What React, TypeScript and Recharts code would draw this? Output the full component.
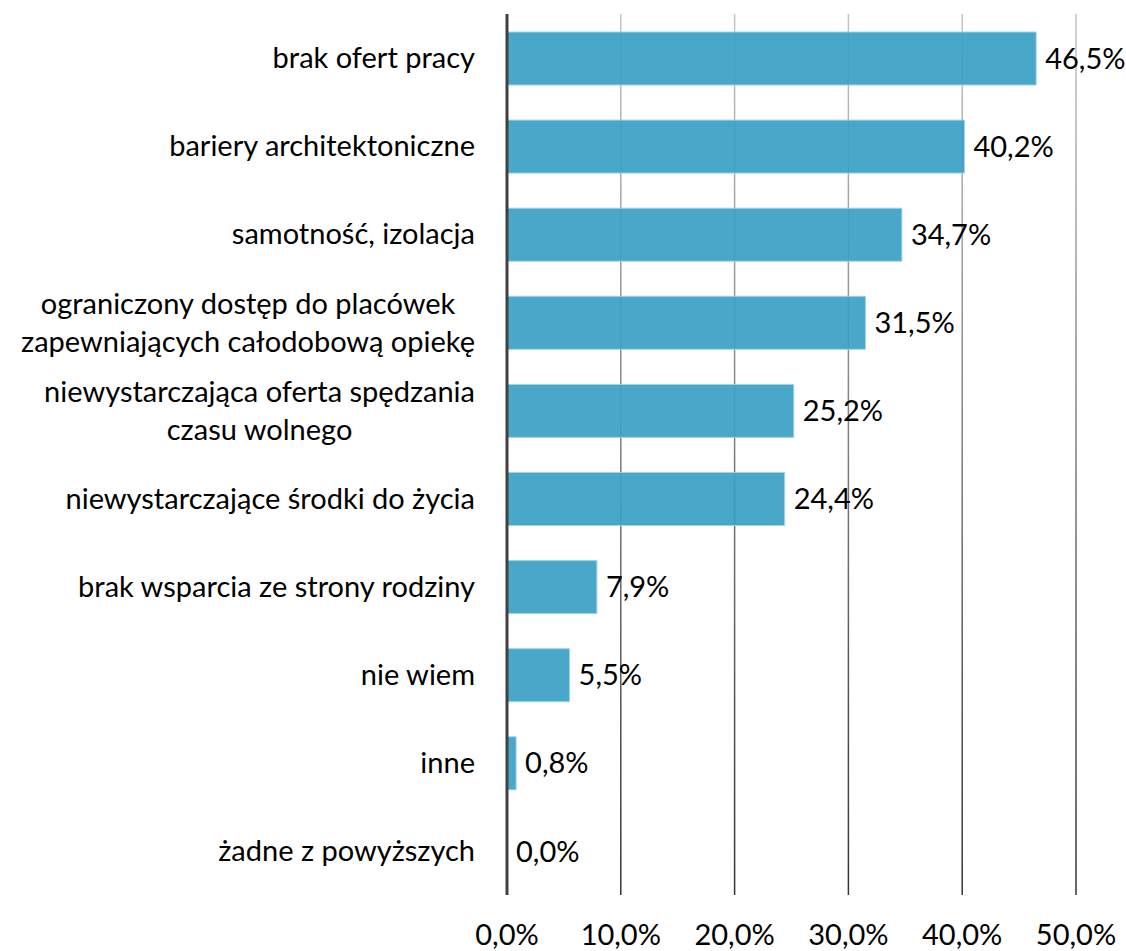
import React from 'react';
import { BarChart, Bar, XAxis, YAxis, CartesianGrid, LabelList } from 'recharts';

const categories = [
  'brak ofert pracy',
  'bariery architektoniczne',
  'samotność, izolacja',
  'ograniczony dostęp do placówek\nzapewniających całodobową opiekę',
  'niewystarczająca oferta spędzania\nczasu wolnego',
  'niewystarczające środki do życia',
  'brak wsparcia ze strony rodziny',
  'nie wiem',
  'inne',
  'żadne z powyższych',
];
const values = [46.5, 40.2, 34.7, 31.5, 25.2, 24.4, 7.9, 5.5, 0.8, 0.0];
const xTicks = [0, 10, 20, 30, 40, 50];

const data = categories.map((name, i) => ({ name, value: values[i] }));

const FONT = 'Lato, "Open Sans", sans-serif';
const FS = 29;
const pct = (v: number) => v.toFixed(1).replace('.', ',') + '%';

let ctx: CanvasRenderingContext2D | null = null;
const measure = (s: string) => {
  if (!ctx) ctx = document.createElement('canvas').getContext('2d');
  if (!ctx) return s.length * 13;
  ctx.font = `${FS}px ${FONT}`;
  return ctx.measureText(s).width;
};

const CatTick = (props: any) => {
  const { x, y, payload } = props;
  const lines: string[] = String(payload.value).split('\n');
  if (lines.length === 1) {
    return (
      <text x={x} y={y} dy="0.35em" textAnchor="end" fontSize={FS} fontFamily={FONT} fill="#000">
        {lines[0]}
      </text>
    );
  }
  const w = Math.max(...lines.map(measure));
  const cx = x - w / 2;
  const gap = 38;
  return (
    <text textAnchor="middle" fontSize={FS} fontFamily={FONT} fill="#000">
      {lines.map((l, i) => (
        <tspan key={i} x={cx} y={y + (i - (lines.length - 1) / 2) * gap} dy="0.35em">
          {l}
        </tspan>
      ))}
    </text>
  );
};

const ValueLabel = (props: any) => {
  const { x, y, width, height, value } = props;
  return (
    <text
      x={Number(x) + Number(width) + 9}
      y={Number(y) + Number(height) / 2}
      dy="0.35em"
      fontSize={FS}
      fontFamily={FONT}
      fill="#000"
    >
      {pct(Number(value))}
    </text>
  );
};

export default function App() {
  return (
    <div style={{ position: 'absolute', left: 0, top: 0, background: '#fff' }}>
      <BarChart
        width={1126}
        height={951}
        data={data}
        layout="vertical"
        margin={{ top: 14, right: 50, left: 0, bottom: 0 }}
      >
        <defs>
          <linearGradient id="gridGrad" gradientUnits="userSpaceOnUse" x1="0" y1="14" x2="0" y2="895">
            <stop offset="0%" stopColor="#c4c4c4" />
            <stop offset="100%" stopColor="#333" />
          </linearGradient>
        </defs>
        <CartesianGrid horizontal={false} stroke="url(#gridGrad)" strokeWidth={1.5} />
        <XAxis
          type="number"
          domain={[0, 50]}
          ticks={xTicks}
          tickFormatter={pct}
          axisLine={false}
          tickLine={false}
          tickSize={0}
          tickMargin={29}
          height={56}
          tick={{ fontSize: FS, fontFamily: FONT, fill: '#000' }}
          interval={0}
        />
        <YAxis
          type="category"
          dataKey="name"
          width={507}
          axisLine={{ stroke: '#404040', strokeWidth: 3 }}
          tickLine={false}
          tickSize={0}
          tickMargin={32}
          tick={<CatTick />}
          interval={0}
        />
        <Bar
          dataKey="value"
          fill="#3a9fc5"
          fillOpacity={0.92}
          stroke="#9fd3e6"
          strokeWidth={1}
          barSize={53}
          minPointSize={0.01}
          isAnimationActive={false}
        >
          <LabelList dataKey="value" content={<ValueLabel />} />
        </Bar>
      </BarChart>
    </div>
  );
}
